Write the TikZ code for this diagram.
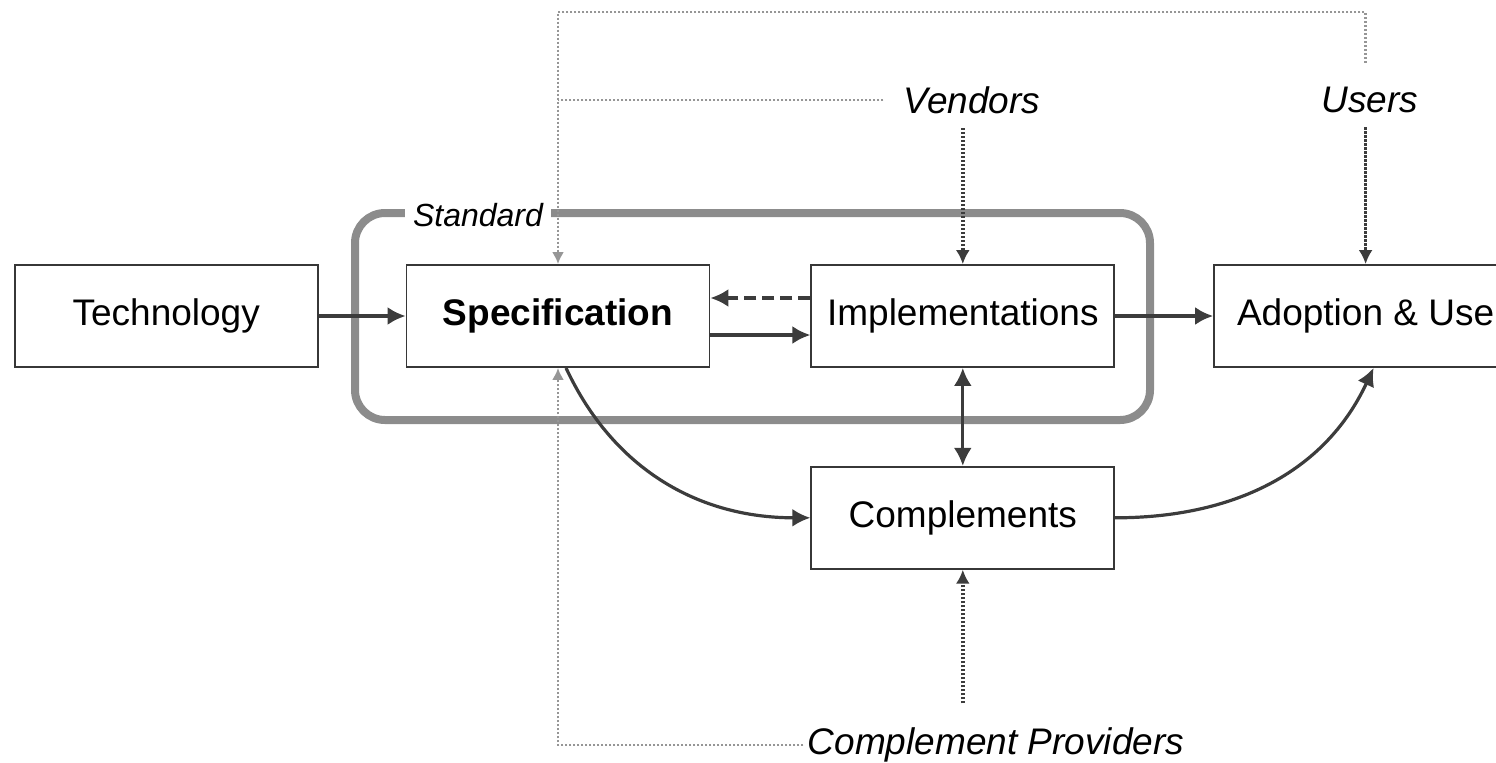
\documentclass[tikz,border=0pt]{standalone}
\usepackage{fontspec}
\setmainfont{Liberation Sans}
\usetikzlibrary{arrows.meta,positioning}
\definecolor{boxgray}{RGB}{55,55,55}
\definecolor{standardgray}{RGB}{140,140,140}
\definecolor{lightdot}{RGB}{150,150,150}
\definecolor{darkdot}{RGB}{60,60,60}

\begin{document}
\begin{tikzpicture}[
    x=0.5pt, y=-0.5pt,
    font=\fontsize{18.5}{22}\selectfont,
    node distance=49pt,
    box/.style={draw=boxgray, line width=0.9pt, fill=white, minimum width=151.5pt, minimum height=51pt, inner sep=0pt},
    actor/.style={font=\fontsize{18.5}{22}\selectfont\itshape, inner sep=2pt},
    arrow/.style={-{Latex[length=9pt,width=9pt]}, line width=1.6pt, draw=darkdot},
    twoway/.style={{Latex[length=9pt,width=9pt]}-{Latex[length=9pt,width=9pt]}, line width=1.6pt, draw=darkdot},
    darklink/.style={-{Latex[length=7pt,width=7pt]}, line width=1.8pt, draw=darkdot, dash pattern=on 1.2pt off 0.8pt},
    lightlink/.style={line width=1.2pt, draw=lightdot, dash pattern=on 1pt off 1pt},
    standardline/.style={draw=standardgray, line width=4pt, rounded corners=15pt}
  ]
    \useasboundingbox (0,0) rectangle (1496,762);
    \clip (0,0) rectangle (1496,762);
    % the standard frame
    \draw[standardline] (355,213) rectangle (1150,420);
    \node[fill=white, inner xsep=4pt, inner ysep=1pt, font=\fontsize{16}{19}\selectfont\itshape] (stdlabel) at (478,215) {Standard};
    % boxes
    \node[box, font=\fontsize{18.5}{22}\selectfont\bfseries] (spec) at (558,316) {Specification};
    \node[box, left=43.5pt of spec] (tech) {Technology};
    \node[box, right=50pt of spec] (impl) {Implementations};
    \node[box, right=of impl] (adopt) {Adoption \& Use};
    \node[box, below=of impl] (comp) {Complements};
    % actors
    \node[actor] (vendors) at (972,100) {Vendors};
    \node[actor] (users) at (1370,100) {Users};
    \node[actor] (providers) at (996,745) {Complement Providers};
    \coordinate (corner) at (558,12);
    % influence lines
    \draw[lightlink, -{Latex[length=6pt,width=6pt]}] ([yshift=10pt]users.north -| adopt.north) |- (corner) -- (spec.north);
    \draw[lightlink] ([xshift=-8pt]vendors.west) -- (vendors.west -| corner);
    \draw[lightlink, -{Latex[length=6pt,width=6pt]}] (providers.west) -| (spec.south);
    \draw[darklink] ([yshift=-5pt]vendors.south -| impl.north) -- (impl.north);
    \draw[darklink] ([yshift=-5pt]users.south -| adopt.north) -- (adopt.north);
    \draw[darklink] ([yshift=10pt]providers.north -| comp.south) -- (comp.south);
    % flows
    \draw[arrow] (tech) -- (spec);
    \draw[arrow] ([yshift=-9.5pt]spec.east) -- ([yshift=-9.5pt]impl.west);
    \draw[arrow, dash pattern=on 6pt off 3pt] ([yshift=9pt]impl.west) -- ([yshift=9pt]spec.east);
    \draw[arrow, line width=2.2pt] (impl) -- (adopt);
    \draw[twoway] (impl) -- (comp);
    \draw[arrow] ([xshift=4pt]spec.south) to[out=-65, in=180] (comp.west);
    \draw[arrow] (comp.east) to[out=0, in=-115] ([xshift=4pt]adopt.south);
  \end{tikzpicture}
\end{document}
